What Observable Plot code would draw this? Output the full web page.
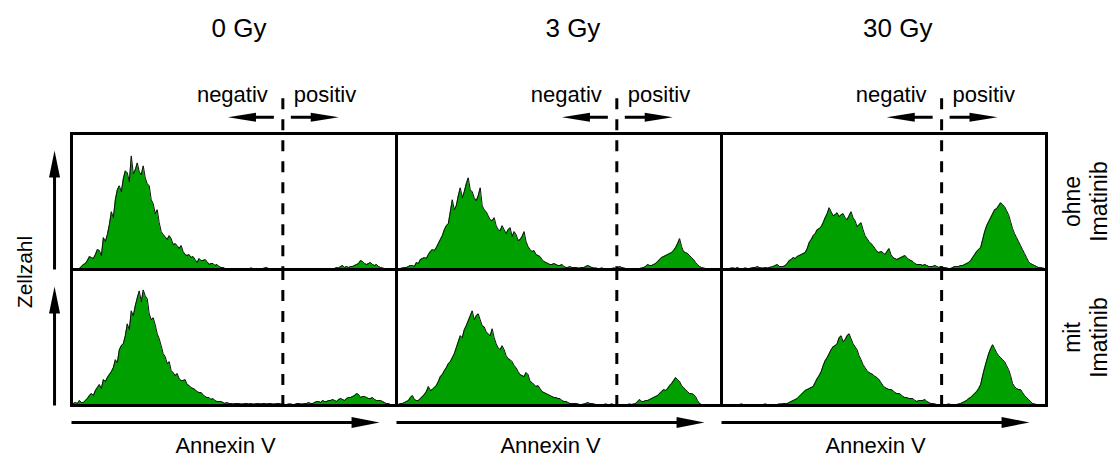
<!DOCTYPE html>
<html><head><meta charset="utf-8">
<script src="https://cdn.jsdelivr.net/npm/d3@7"></script>
<script src="https://cdn.jsdelivr.net/npm/@observablehq/plot@0.6"></script>
<style>html,body{margin:0;padding:0;background:#fff}svg{display:block}</style>
</head><body><div id="chart"></div>
<script>
// ---------- data ----------
const doses = ["0 Gy", "3 Gy", "30 Gy"];
const treatments = ["ohne Imatinib", "mit Imatinib"];
const sideLabels = ["negativ", "positiv"];
const axisLabelX = "Annexin V";
const axisLabelY = "Zellzahl";
// Annexin-V gate position (in channel bins) for each dose
const gates = [106.0, 110.5, 110.4];
// cell counts per Annexin-V channel bin (164 bins)
const counts0GyOhne = [
  0,0.5, 0.5,0.5, 1,3, 5,6, 9,13, 12,11, 15,20, 19,14, 32,28, 35,45,
  58,52, 70,80, 84,78, 91,99, 97,88, 114,96, 100,107, 98,95, 104,92, 86,84,
  70,66, 56,60, 47,38, 35,33, 30,34, 31,25, 26,24, 21,24, 18,15, 14,15,
  12,13, 10,7, 11,9, 9,10, 8,5, 6,6, 4,5, 3,2, 2,1, 1,0.5,
  0.5,0.5, 1,0.5, 0.5,0.5, 0.5,1, 1,0.5, 1.5,1, 0.5,0.5, 0.5,0.5, 1,1.5, 2,0.5,
  0.5,0.5, 0.5,0.5, 0.5,0.5, 0.5,1, 1,0.5, 0.5,0.5, 0.5,0.5, 0.5,0.5, 0.5,0.5, 1,0.5,
  0.5,0.5, 0.5,1, 1,0.5, 0.5,0.5, 0.5,1, 1,0.5, 1,2, 1.5,3,
  4,2, 3,2, 3,3, 4,5, 6,9, 8,6, 5,6, 7,5, 4,5, 3,2, 1.5,1, 0.5,0.5, 0,0, 0,0];
const counts0GyMit = [
  1,2, 3,2, 5,3, 3,5, 7,10, 12,10, 15,18, 21,17, 26,24, 28,31,
  34,38, 46,43, 56,60, 62,70, 82,76, 95,90, 100,108, 115,104, 116,110, 107,92,
  86,88, 81,72, 67,60, 52,49, 42,44, 35,33, 30,32, 27,25, 25,26, 21,20,
  18,17, 16,14, 13,13, 11,9, 8,8, 6,7, 5,4, 4,4, 3,2, 3,2,
  2,1.5, 2,2, 2,1.5, 1.5,2, 2,1.5, 2,1.5, 1.5,2, 2,1.5, 2,2, 1.5,2, 2,1.5, 1.5,2, 2,1.5,
  1.5,1, 1,1.5, 1.5,1, 1,2, 2,1.5, 1.5,2, 2,3, 2,2,
  3,4, 4,3, 5,4, 4,5, 5,6, 5,4, 6,7, 6,5, 7,8, 8,9, 10,12, 11,8, 9,9, 8,7, 7,8, 6,5, 5,5, 4,3, 2,2, 1,1, 1,0.5];
const counts3GyOhne = [
  1,0.5, 1,1.5, 2,2, 3,4, 4,3, 7,6, 10,11, 12,11, 15,18, 20,19,
  22,26, 30,34, 40,44, 46,58, 70,60, 64,74, 82,72, 78,86, 92,80, 78,72,
  69,74, 82,64, 60,58, 54,50, 49,52, 44,40, 39,44, 40,36, 40,42, 33,38,
  35,29, 30,33, 38,28, 23,20, 18,19, 15,14, 13,10, 8,7, 6,5, 5,6,
  5,4, 4,5, 3,2, 2,3, 2,2, 2,1.5, 1.5,2, 2,3, 4,3, 2,1.5, 1.5,1, 1,1.5, 1,1, 1,1, 1,1.5, 1,2, 3,2, 1.5,1, 1,1, 1,1, 1,1, 1,1.5,
  2,3, 5,4, 4,5, 6,8, 10,12, 13,14, 15,16, 17,19, 22,26, 31,23, 18,17, 16,14, 12,10, 7,5, 3,2, 1.5,1, 1,1, 0.5,0.5, 0.5,0.5, 0,0];
const counts3GyMit = [
  1,1, 2,2, 3,4, 5,8, 10,6, 5,5, 7,9, 11,14, 19,15, 16,18,
  20,24, 29,31, 35,38, 42,44, 48,52, 58,64, 70,68, 76,80, 85,90, 95,86,
  90,92, 86,80, 79,74, 72,70, 77,68, 62,58, 56,60, 56,50, 47,46, 44,40,
  38,34, 31,30, 29,33, 31,24, 23,21, 19,20, 17,14, 13,12, 11,10, 9,8,
  8,7, 7,5, 4,4, 3,2, 2,2, 2,1.5, 1,1, 1.5,2, 3,2, 2,1.5, 1,1, 1,1, 1,1.5, 1,1, 1.5,1, 1,1, 1,1, 1,1, 1,1.5, 1,1.5,
  2,4, 6,4, 4,5, 5,6, 7,8, 9,10, 12,14, 16,15, 17,20, 22,25, 28,26, 24,20, 18,16, 14,12, 12,11, 9,5, 2,1, 1,1, 0.5,0.5, 0.5,0.5, 0.5,0.5, 0.5,0.5];
const counts30GyOhne = [
  1,1, 1,1, 1,1.5, 1.5,1, 2,1, 1,1, 1.5,1, 1,1.5, 2,2, 3,2,
  1.5,1.5, 2,1.5, 2,2.5, 3,4, 5,3, 3,3, 4,6, 9,10, 12,11, 13,14,
  15,16, 17,21, 27,30, 34,36, 40,41, 43,47, 52,56, 62,58, 54,55, 57,53,
  55,56, 52,50, 54,58, 52,49, 43,45, 47,40, 34,31, 28,26, 24,21, 18,17,
  18,17, 15,18, 21,15, 12,11, 10,11, 12,13, 14,12, 10,9, 8,6, 5,5,
  5,4, 5,4, 3,3, 3,4, 3,2, 3,2, 2,1.5, 1,1, 2,3, 3,3,
  4,4, 5,6, 7,9, 12,15, 18,20, 22,30, 38,44, 48,52, 56,60, 61,64,
  67,65, 63,59, 55,48, 41,36, 32,28, 24,20, 16,12, 8,6, 5,4, 3,2, 2,1.5, 1,0.5];
const counts30GyMit = [
  1,1, 1,0.5, 0.5,1, 1,1, 1,1, 1.5,1, 1,1, 1,0.5, 0.5,1, 1,1,
  1,1, 1.5,1, 1,1, 1,1, 1,1.5, 1.5,2, 2,2, 3,4, 5,6, 7,9,
  11,13, 15,16, 17,18, 19,23, 27,30, 34,40, 45,48, 52,56, 59,60, 62,68,
  70,64, 66,70, 72,67, 62,59, 56,50, 46,41, 38,35, 33,32, 31,29, 28,26,
  23,20, 18,17, 16,16, 15,13, 12,12, 11,9, 8,8, 7,7, 7,5, 4,5,
  5,5, 6,4, 3,2, 2,1.5, 1,1, 1,1, 1,1, 1.5,1, 1,1, 1,1.5,
  2,3, 4,5, 7,8, 10,12, 14,17, 21,30, 38,45, 52,57, 61,57, 53,50,
  48,46, 44,40, 36,30, 22,19, 17,16, 16,13, 10,8, 6,4, 2,1.5, 1,1, 0.5,0.5, 0.5,0.5];

const series = [
  {dose: doses[0], treat: treatments[0], values: counts0GyOhne},
  {dose: doses[0], treat: treatments[1], values: counts0GyMit},
  {dose: doses[1], treat: treatments[0], values: counts3GyOhne},
  {dose: doses[1], treat: treatments[1], values: counts3GyMit},
  {dose: doses[2], treat: treatments[0], values: counts30GyOhne},
  {dose: doses[2], treat: treatments[1], values: counts30GyMit}
];
const hist = series.flatMap(s => s.values.map((v, i) => ({dose: s.dose, treat: s.treat, bin: i, count: v})));

// ---------- layout ----------
const W = 1117, H = 457, mL = 70, mR = 70, mT = 132, mB = 52;
const panelW = (W - mL - mR) / doses.length;
const panelH = (H - mT - mB) / treatments.length;
const xMax = counts0GyOhne.length - 1;
const yTop = 136.5;
const ux = px => px * xMax / panelW;
const uy = px => px * yTop / panelH;

function head(dir, len, wid) {
  const h = wid / 2;
  return {draw(ctx) {
    if (dir === "right") { ctx.moveTo(0, 0); ctx.lineTo(-len, -h); ctx.lineTo(-len, h); }
    else if (dir === "left") { ctx.moveTo(0, 0); ctx.lineTo(len, -h); ctx.lineTo(len, h); }
    else { ctx.moveTo(0, 0); ctx.lineTo(-h, len); ctx.lineTo(h, len); }
    ctx.closePath();
  }};
}

const topRows = doses.map((d, j) => ({dose: d, treat: treatments[0], gate: gates[j]}));
const gateRows = treatments.flatMap(t => doses.map((d, j) => ({dose: d, treat: t, gate: gates[j]})));
const gateArrows = topRows.flatMap(r => [
  {...r, dir: "left", x1: r.gate - ux(9), x2: r.gate - ux(55)},
  {...r, dir: "right", x1: r.gate + ux(8), x2: r.gate + ux(56)}
]);
const yGateArrow = yTop + uy(16.3);
const bottomArrows = doses.map(d => ({dose: d, treat: treatments[1], x1: 0, x2: xMax - ux(17)}));
const yBottomArrow = -uy(17);
const sideArrows = treatments.map(t => ({dose: doses[0], treat: t}));
const xSideArrow = -ux(17);
const rowLabels = treatments.map(t => ({dose: doses[2], treat: t, label: t.replace(" ", "\n")}));

const F = {fx: "dose", fy: "treat"};

const chart = Plot.plot({
  width: W, height: H,
  marginLeft: mL, marginRight: mR, marginTop: mT, marginBottom: mB,
  style: {fontFamily: "'Liberation Sans', Arial, Helvetica, sans-serif", background: "#fff", color: "#000"},
  fx: {domain: doses, padding: 0, axis: null},
  fy: {domain: treatments, padding: 0, axis: null},
  x: {domain: [0, xMax], axis: null},
  y: {domain: [0, yTop], axis: null},
  marks: [
    Plot.areaY(hist, {...F, x: "bin", y: "count", fill: "#00a000"}),
    Plot.lineY(hist, {...F, x: "bin", y: "count", stroke: "#111", strokeWidth: 1}),
    Plot.ruleX(gateRows, {...F, x: "gate", y1: d => d.treat === treatments[0] ? yTop + uy(35) : yTop, y2: 0,
      stroke: "#000", strokeWidth: 3, strokeDasharray: "11,10"}),
    Plot.frame({stroke: "#000", strokeWidth: 3}),
    // column titles
    Plot.text(topRows, {...F, x: d => d.gate - ux(44), y: yTop + uy(97), text: "dose", fontSize: 26, lineAnchor: "bottom"}),
    // negativ / positiv
    Plot.text(topRows, {...F, x: "gate", y: yTop + uy(32), text: () => sideLabels[0], textAnchor: "end", dx: -15, fontSize: 22, lineAnchor: "bottom"}),
    Plot.text(topRows, {...F, x: "gate", y: yTop + uy(32), text: () => sideLabels[1], textAnchor: "start", dx: 11, fontSize: 22, lineAnchor: "bottom"}),
    // gate arrows
    Plot.link(gateArrows, {...F, x1: "x1", x2: d => d.dir === "left" ? d.x2 + ux(14) : d.x2 - ux(14), y1: yGateArrow, y2: yGateArrow, stroke: "#000", strokeWidth: 3}),
    Plot.dot(gateArrows.filter(d => d.dir === "left"), {...F, x: "x2", y: yGateArrow, symbol: head("left", 28, 9), fill: "#000", stroke: "none"}),
    Plot.dot(gateArrows.filter(d => d.dir === "right"), {...F, x: "x2", y: yGateArrow, symbol: head("right", 28, 9), fill: "#000", stroke: "none"}),
    // Annexin V arrows + labels
    Plot.link(bottomArrows, {...F, x1: "x1", x2: d => d.x2 - ux(14), y1: yBottomArrow, y2: yBottomArrow, stroke: "#000", strokeWidth: 3}),
    Plot.dot(bottomArrows, {...F, x: "x2", y: yBottomArrow, symbol: head("right", 28, 11), fill: "#000", stroke: "none"}),
    Plot.text(bottomArrows, {...F, x: d => (d.x1 + d.x2) / 2, y: -uy(48), text: () => axisLabelX, fontSize: 22, lineAnchor: "bottom"}),
    // Zellzahl arrows + label
    Plot.link(sideArrows, {...F, x1: xSideArrow, x2: xSideArrow, y1: 0, y2: yTop - uy(17) - uy(14), stroke: "#000", strokeWidth: 3}),
    Plot.dot(sideArrows, {...F, x: xSideArrow, y: yTop - uy(17), symbol: head("up", 27, 11), fill: "#000", stroke: "none"}),
    Plot.text([{dose: doses[0], treat: treatments[1]}], {...F, x: -ux(40), y: yTop - uy(2.5), text: () => axisLabelY, rotate: -90, fontSize: 21, lineAnchor: "bottom", textAnchor: "middle"}),
    // row labels
    Plot.text(rowLabels, {...F, x: xMax + ux(61), y: yTop / 2, text: "label", rotate: -90, fontSize: 23, lineHeight: 1.2, lineAnchor: "bottom", textAnchor: "middle"})
  ]
});
document.getElementById("chart").appendChild(chart);
</script>
</body></html>
